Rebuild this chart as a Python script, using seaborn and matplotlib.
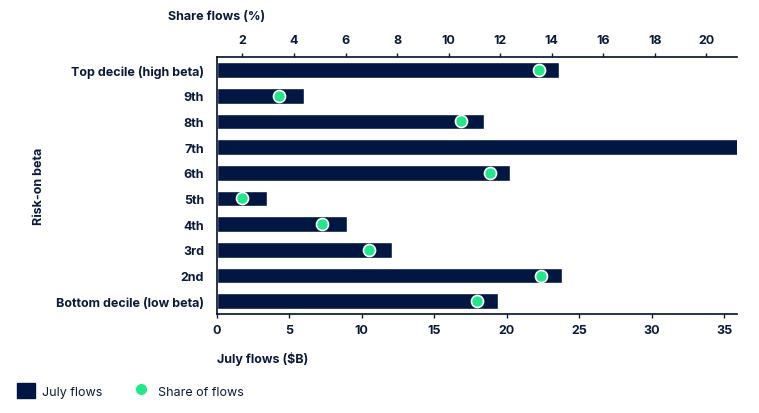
import seaborn as sns
import numpy as np
import matplotlib.pyplot as plt
from matplotlib.patches import Patch
from matplotlib.lines import Line2D

# data
deciles = ["Top decile (high beta)", "9th", "8th", "7th", "6th",
           "5th", "4th", "3rd", "2nd", "Bottom decile (low beta)"]
july_flows = [23.6, 6.0, 18.4, 38.0, 20.2, 3.5, 9.0, 12.1, 23.8, 19.4]
share_flows = [13.5, 3.4, 10.5, 24.0, 11.6, 2.0, 5.1, 6.9, 13.6, 11.1]

navy = "#011640"
green = "#22E88A"
txt = "#0B1A3A"

sns.set_theme(style="white")
plt.rcParams['font.family'] = ['Inter', 'DejaVu Sans']
plt.rcParams['font.weight'] = 'bold'

fig = plt.figure(figsize=(7.59, 4.14), dpi=100)
ax = fig.add_axes([0.2855, 0.2391, 0.6851, 0.6201])

sns.barplot(x=july_flows, y=deciles, orient="h", color=navy, saturation=1,
            width=0.62, ax=ax)
ax.set_xlim(0, 35.86)
ax.set_xticks([0, 5, 10, 15, 20, 25, 30, 35])
ax.set_xlabel("July flows ($B)", fontsize=9, fontweight="bold", color=txt,
              loc="left", labelpad=11)
ax.set_ylabel("Risk-on beta", fontsize=9, fontweight="bold", color=txt,
              labelpad=8)

# share of flows on the top axis
ax2 = ax.twiny()
pos = np.arange(len(deciles))
sns.scatterplot(x=share_flows, y=pos, color=green, s=75, edgecolor="white",
                linewidth=1.2, ax=ax2, zorder=5)
ax2.set_xlim(1, 21.18)
ax2.set_xticks([2, 4, 6, 8, 10, 12, 14, 16, 18, 20])
ax2.set_xlabel("Share flows (%)", fontsize=9, fontweight="bold", color=txt)
ax2.xaxis.set_label_coords(0.0, 1.15)
ax.set_ylim(len(deciles) - 0.5, -0.5)

for a in (ax, ax2):
    for s in a.spines.values():
        s.set_visible(False)
    a.tick_params(colors=txt, labelsize=9, length=3, width=1, direction="out")
    for lab in a.get_xticklabels() + a.get_yticklabels():
        lab.set_fontweight("bold")
ax.spines["left"].set_visible(True)
ax.spines["bottom"].set_visible(True)
ax.spines["left"].set_color(txt)
ax.spines["bottom"].set_color(txt)
ax2.spines["top"].set_visible(True)
ax2.spines["top"].set_color(txt)
ax.tick_params(axis="x", pad=4)
ax.tick_params(axis="y", pad=6)
ax2.tick_params(axis="x", pad=5)

handles = [Patch(facecolor=navy, edgecolor=navy, label="July flows"),
           Line2D([0], [0], marker="o", color="none", markerfacecolor=green,
                  markeredgecolor="white", markersize=9, label="Share of flows")]
leg = fig.legend(handles=handles, loc="lower left", bbox_to_anchor=(0.008, 0.01),
                 ncol=2, frameon=False, fontsize=9, handlelength=1.4,
                 handleheight=1.4, columnspacing=2.4, handletextpad=0.6)
for t in leg.get_texts():
    t.set_fontweight("normal")
    t.set_color(txt)

fig.savefig("out.png", dpi=100)
